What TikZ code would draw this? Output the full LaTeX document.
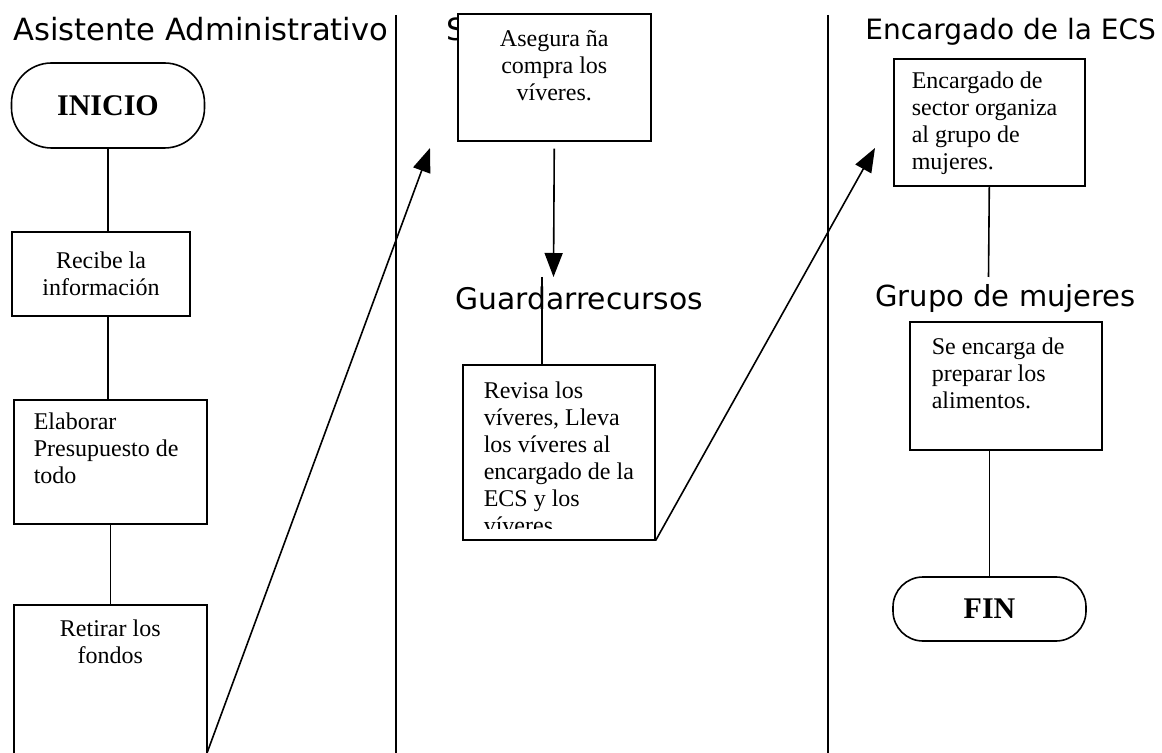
\documentclass[tikz,border=0pt]{standalone}
\usepackage{fontspec}
\setmainfont{Liberation Serif}
\newfontfamily\headfont{DejaVu Sans}
\usetikzlibrary{arrows.meta}

% text at the top of a box of fixed size: width, height, text, first baseline
\newcommand{\boxtext}[4]{\parbox[c][#2][t]{#1}{\rule{0pt}{#4}#3}}

\begin{document}
\begin{tikzpicture}[x=0.5pt, y=-0.5pt,
        box/.style={draw, fill=white, line width=0.8pt, inner sep=0pt, font=\fontsize{12pt}{13.5pt}\selectfont},
        term/.style={draw, fill=white, line width=0.8pt, minimum width=96.5pt, font=\fontsize{15pt}{18pt}\selectfont\bfseries},
        lane/.style={font=\headfont\fontsize{14.5pt}{17pt}\selectfont, inner sep=0pt, anchor=base west},
        arrow/.style={-{Triangle[length=12pt, width=9pt]}, line width=0.8pt},
        link/.style={line width=0.8pt}
    ]
    \useasboundingbox (0,0) rectangle (1162,753);
    \clip (0,0) rectangle (1162,753);

    % lanes
    \foreach \x in {396, 828}
        \draw[link] (\x,15) -- (\x,753);

    \node[lane, font=\headfont\fontsize{15.3pt}{17pt}\selectfont] (asist) at (13,41) {Asistente Administrativo};
    \node[lane, font=\headfont\fontsize{15.3pt}{17pt}\selectfont] (superv) at (446,41) {S};
    \node[lane, font=\headfont\fontsize{14pt}{17pt}\selectfont] (encecs) at (865,40) {Encargado de la ECS};
    \node[lane, font=\headfont\fontsize{14.9pt}{17pt}\selectfont] (guarda) at (455,310) {Guardarrecursos};
    \node[lane] (grupo) at (875,307) {Grupo de mujeres};

    % asistente
    \node[term, rounded corners=20pt, minimum height=42.5pt] (inicio) at (108,105.5) {INICIO};
    \node[box, minimum width=89pt, minimum height=42pt, align=center] (recibe) at (101,274) {Recibe la\\información};
    \node[box, anchor=north west] (elaborar) at (13,399) {\boxtext{96.5pt}{62pt}{\raggedright\leftskip=10pt Elaborar\\Presupuesto de\\todo}{14.75pt}};
    \node[box, anchor=north west] (retirar) at (13,604) {\boxtext{96.5pt}{80pt}{\centering Retirar los\\fondos}{15.75pt}};

    % guardarrecursos
    \node[box, anchor=north west] (asegura) at (457,13) {\boxtext{96.5pt}{63.5pt}{\centering Asegura ña\\compra los\\víveres.}{16.25pt}};
    \node[box, anchor=north west, minimum width=96pt, minimum height=87.5pt] (revisa) at (462,364) {};
    \begin{scope}
        \clip (revisa.north west) rectangle ([yshift=6pt]revisa.south east);
        \node[box, draw=none, fill=none, anchor=north west] (revisatxt) at (revisa.north west) {\boxtext{96pt}{87.5pt}{\raggedright\leftskip=10.5pt Revisa los\\víveres, Lleva\\los víveres al\\encargado de la\\ECS y los\\víveres.}{17pt}};
    \end{scope}

    % encargado de la ECS
    \node[box, anchor=north west] (encargado) at (893,58) {\boxtext{95.5pt}{63.5pt}{\raggedright\leftskip=9pt Encargado de\\sector organiza\\al grupo de\\mujeres.}{14.75pt}};
    \node[box, anchor=north west] (prepara) at (909,321) {\boxtext{96pt}{64pt}{\raggedright\leftskip=11pt Se encarga de\\preparar los\\alimentos.}{16.25pt}};
    \node[term, rounded corners=15pt, minimum height=32pt] (fin) at (989.5,609) {FIN};

    \coordinate (fondosout) at (207,753);
    \coordinate (asegurain) at (430,148);
    \coordinate (guardain) at (553.5,277);
    \coordinate (guardatop) at (542,277);
    \coordinate (encargadoin) at (875,148);
    \coordinate (grupotop) at (988.5,277);

    \draw[link] (inicio.south) -- (inicio.south |- recibe.north);
    \draw[link] (inicio.south |- recibe.south) -- (inicio.south |- elaborar.north);
    \draw[link] (elaborar.south) -- (retirar.north);
    \draw[arrow] (fondosout) -- (asegurain);
    \draw[arrow, shorten <=3.5pt] (asegura.south) -- (guardain);
    \draw[link] (guardatop) -- (guardatop |- revisa.north);
    \draw[arrow] (revisa.south east) -- (encargadoin);
    \draw[link] (encargado.south) -- (grupotop);
    \draw[link] (fin.north |- prepara.south) -- (fin.north);
\end{tikzpicture}
\end{document}
